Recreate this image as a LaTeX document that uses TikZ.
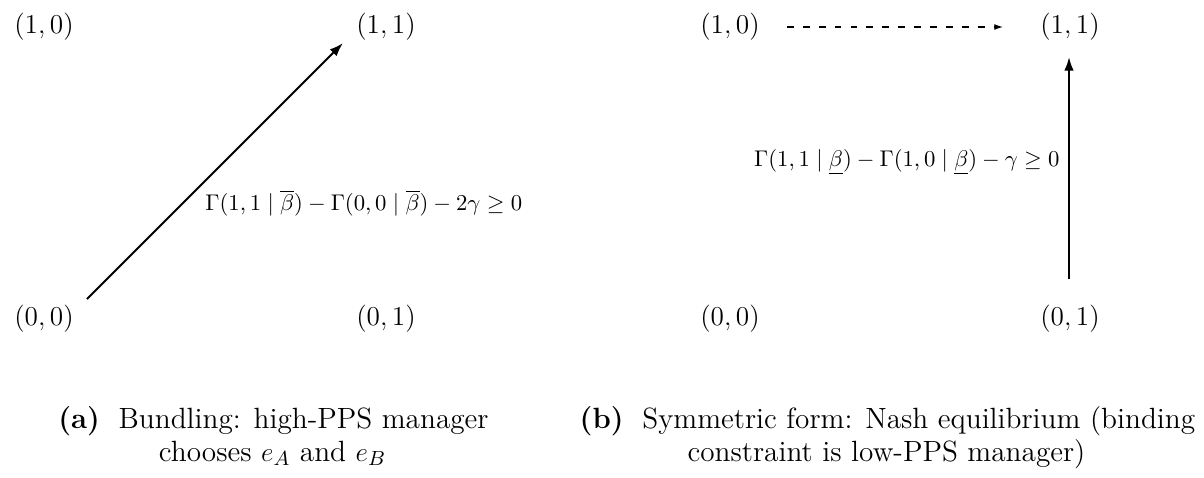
\documentclass[tikz,border=0pt]{standalone}
\usetikzlibrary{arrows.meta}
\begin{document}
\begin{tikzpicture}[x=0.4405pt,y=-0.4405pt,
  ptlbl/.style={font=\fontsize{12.6}{15}\selectfont, inner sep=2pt},
  arr/.style={line width=0.9pt,-{Latex[length=6pt,width=4.2pt]}},
  darr/.style={line width=0.5pt,dash pattern=on 3pt off 4pt,-{Latex[length=3.8pt,width=2.6pt]}},
  lbl/.style={font=\fontsize{10}{12}\selectfont, inner sep=0pt},
  capline/.style={font=\fontsize{12.9}{15}\selectfont, anchor=base, inner sep=0pt}]
\useasboundingbox (0,0) rectangle (1204,477);
% panel (a)
\node[ptlbl] (a10) at (44,27) {$(1,0)$};
\node[ptlbl] (a11) at (386,27) {$(1,1)$};
\node[ptlbl] (a00) at (44,319) {$(0,0)$};
\node[ptlbl] (a01) at (386,319) {$(0,1)$};
\coordinate (as) at (87,299);
\coordinate (ae) at (343,43);
\draw[arr] (as) -- (ae);
\node[lbl, anchor=west] (la) at (205,203) {$\Gamma(1,1 \mid \overline{\beta}) - \Gamma(0,0 \mid \overline{\beta}) - 2\gamma \geq 0$};
% panel (b)
\node[ptlbl] (b10) at (730,27) {$(1,0)$};
\node[ptlbl] (b11) at (1070,27) {$(1,1)$};
\node[ptlbl] (b00) at (730,319) {$(0,0)$};
\node[ptlbl] (b01) at (1070,319) {$(0,1)$};
\coordinate (bs) at (1069,279);
\coordinate (be) at (1069,57);
\draw[arr] (bs) -- (be);
\coordinate (ds) at (787,27);
\coordinate (de) at (1003,27);
\draw[darr] (ds) -- (de);
\node[lbl, anchor=east] (lb) at (1060,162) {$\Gamma(1,1 \mid \underline{\beta}) - \Gamma(1,0 \mid \underline{\beta}) - \gamma \geq 0$};
% captions
\node[capline] (ca1) at (273.5,428) {\textbf{(a)}\hspace{8.2pt}Bundling: high-PPS manager};
\node[capline] (ca2) at (272.5,461) {chooses $e_A$ and $e_B$};
\node[capline] (cb1) at (887.5,428) {\textbf{(b)}\hspace{8.2pt}Symmetric form: Nash equilibrium (binding};
\node[capline] (cb2) at (886.5,461) {constraint is low-PPS manager)};
\end{tikzpicture}
\end{document}
